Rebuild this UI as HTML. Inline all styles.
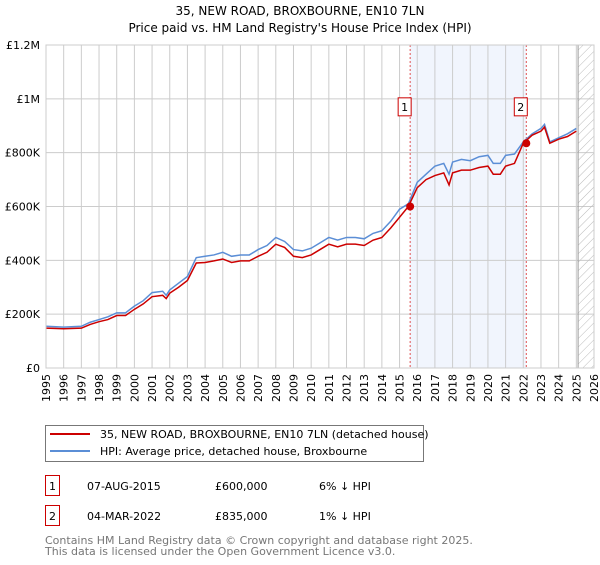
<!DOCTYPE html>
<html><head><meta charset="utf-8"><style>
body{margin:0;background:#fff;font-family:"Liberation Sans","DejaVu Sans",sans-serif;}
</style></head><body>
<svg width="600" height="560" xmlns="http://www.w3.org/2000/svg" font-family="DejaVu Sans, Liberation Sans, sans-serif">
<text x="300" y="15" text-anchor="middle" font-size="12">35, NEW ROAD, BROXBOURNE, EN10 7LN</text>
<text x="300" y="32" text-anchor="middle" font-size="12">Price paid vs. HM Land Registry's House Price Index (HPI)</text>
<g id="plot"></g>
<g>
<rect x="45.5" y="425.5" width="378" height="36" fill="#fff" stroke="#777"/>
<line x1="50" y1="434" x2="90" y2="434" stroke="#cc0000" stroke-width="2"/>
<text x="100" y="438" font-size="11">35, NEW ROAD, BROXBOURNE, EN10 7LN (detached house)</text>
<line x1="50" y1="451" x2="90" y2="451" stroke="#5b8ed6" stroke-width="2"/>
<text x="100" y="455" font-size="11">HPI: Average price, detached house, Broxbourne</text>
</g>
<g font-size="11">
<rect x="45.5" y="475.5" width="14" height="20" fill="#fff" stroke="#cc0000"/><text x="52.5" y="490" text-anchor="middle">1</text>
<text x="87" y="490">07-AUG-2015</text><text x="215" y="490">£600,000</text><text x="319" y="490">6% ↓ HPI</text>
<rect x="45.5" y="505.5" width="14" height="20" fill="#fff" stroke="#cc0000"/><text x="52.5" y="520" text-anchor="middle">2</text>
<text x="87" y="520">04-MAR-2022</text><text x="215" y="520">£835,000</text><text x="319" y="520">1% ↓ HPI</text>
</g>
<text x="45" y="544" font-size="11" fill="#777">Contains HM Land Registry data © Crown copyright and database right 2025.</text>
<text x="45" y="555" font-size="11" fill="#777">This data is licensed under the Open Government Licence v3.0.</text>
</svg>
<script>
const years=[1995,1996,1997,1997.5,1998,1998.5,1999,1999.5,2000,2000.5,2001,2001.6,2001.8,2002,2002.5,2003,2003.5,2004,2004.5,2005,2005.5,2006,2006.5,2007,2007.5,2008,2008.5,2009,2009.5,2010,2010.5,2011,2011.5,2012,2012.5,2013,2013.5,2014,2014.5,2015,2015.5,2016,2016.5,2017,2017.5,2017.8,2018,2018.5,2019,2019.5,2020,2020.3,2020.7,2021,2021.5,2022,2022.5,2023,2023.2,2023.5,2024,2024.5,2025];
const hpi=[155,152,155,170,180,190,205,205,230,250,280,285,270,290,315,340,410,415,420,430,415,420,420,440,455,485,470,440,435,445,465,485,475,485,485,480,500,510,545,590,610,690,720,750,760,720,765,775,770,785,790,760,760,790,795,840,870,890,905,840,855,870,890];
const price=[148,146,148,162,172,180,195,195,218,238,265,270,258,278,300,325,390,392,398,405,392,398,398,415,430,460,448,415,410,420,440,460,450,460,460,455,475,485,520,560,600,670,700,715,725,680,725,735,735,745,750,720,720,750,760,835,865,880,895,835,850,860,880];
const yTicks=[0,200,400,600,800,1000,1200];
const yTickLabels=["£0","£200K","£400K","£600K","£800K","£1M","£1.2M"];
const sales=[[2015.6,600],[2022.17,835]];
const X0=46,X1=594,Y0=368,Y1=45;
const xs=y=>X0+(y-1995)/(2026-1995)*(X1-X0);
const ys=v=>Y0-v/1200*(Y0-Y1);
const NS="http://www.w3.org/2000/svg";
const g=document.getElementById('plot');
function mk(t,a){const e=document.createElementNS(NS,t);for(const k in a)e.setAttribute(k,a[k]);g.appendChild(e);return e;}
let e=mk('rect',{x:xs(2015.6),y:Y1,width:xs(2022.17)-xs(2015.6),height:Y0-Y1,fill:'#f1f5fd'});

for(let y=1995;y<=2026;y++){e=mk('line',{x1:xs(y),x2:xs(y),y1:Y1,y2:Y0,stroke:'#ccc','stroke-width':1});

e=mk('text',{x:0,y:0,'font-size':11,'text-anchor':'end',transform:`translate(${xs(y)+4},${Y0+6}) rotate(-90)`});e.textContent=y;
}
yTicks.forEach((v,i)=>{e=mk('line',{x1:X0,x2:X1,y1:ys(v),y2:ys(v),stroke:'#ccc'});

e=mk('text',{x:X0-6,y:ys(v)+4,'font-size':11,'text-anchor':'end'});e.textContent=yTickLabels[i];
});
const defs=mk('defs',{});
defs.innerHTML='<pattern id="hatch" width="6" height="6" patternUnits="userSpaceOnUse" patternTransform="rotate(45)"><line x1="0" y1="0" x2="0" y2="6" stroke="#bbb" stroke-width="1"/></pattern>';
e=mk('rect',{x:xs(2025.1),y:Y1,width:X1-xs(2025.1),height:Y0-Y1,fill:'url(#hatch)',stroke:'#999'});

sales.forEach(s=>{e=mk('line',{x1:xs(s[0]),x2:xs(s[0]),y1:Y1,y2:Y0,stroke:'#e05050','stroke-dasharray':'2,2'});
});
e=mk('polyline',{points:years.map((y,i)=>xs(y)+','+ys(hpi[i])).join(' '),fill:'none',stroke:'#5b8ed6','stroke-width':1.5});

e=mk('polyline',{points:years.map((y,i)=>xs(y)+','+ys(price[i])).join(' '),fill:'none',stroke:'#cc0000','stroke-width':1.5});

sales.forEach((s,i)=>{e=mk('circle',{cx:xs(s[0]),cy:ys(s[1]),r:4,fill:'#cc0000'});

e=mk('rect',{x:xs(s[0])-12,y:ys(1000)-1,width:13,height:18,fill:'#fff',stroke:'#cc0000'});

e=mk('text',{x:xs(s[0])-5.5,y:ys(1000)+12,'font-size':11,'text-anchor':'middle'});e.textContent=i+1;
});
e=mk('rect',{x:X0,y:Y1,width:X1-X0,height:Y0-Y1,fill:'none',stroke:'#ccc'});

</script>
</body></html>
